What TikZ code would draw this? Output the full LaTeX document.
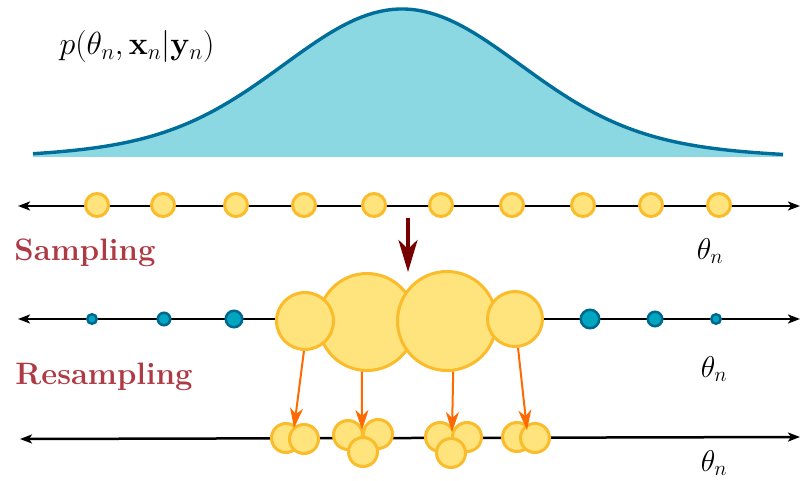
\RequirePackage{fix-cm}
\documentclass[tikz,border=0pt]{standalone}
\usetikzlibrary{arrows.meta}
\definecolor{ylwfill}{HTML}{FFE37D}
\definecolor{ylwline}{HTML}{FBBC2B}
\definecolor{cyfill}{HTML}{8BD8E2}
\definecolor{curveblue}{HTML}{006E9A}
\definecolor{dotfill}{HTML}{00A6C0}
\definecolor{dotline}{HTML}{00688F}
\definecolor{lblred}{HTML}{AE3A44}
\definecolor{darkred}{HTML}{760000}
\definecolor{orangearr}{HTML}{FF6A00}
\tikzset{
  part/.style={circle, draw=ylwline, fill=ylwfill, line width=3pt, minimum size=#1, inner sep=0pt},
  wdot/.style={circle, draw=dotline, fill=dotfill, line width=2.5pt, minimum size=#1, inner sep=0pt},
  axisline/.style={line width=2.5pt, {Stealth[length=12pt,width=9pt,inset=3pt]}-{Stealth[length=12pt,width=9pt,inset=3pt]}},
  resarrow/.style={draw=orangearr, line width=2pt, -{Stealth[length=20pt,width=13pt,inset=6pt]}},
  steplabel/.style={text=lblred, font=\fontsize{31}{36}\selectfont\bfseries, inner sep=0pt},
  mathlabel/.style={font=\fontsize{30}{36}\selectfont, inner sep=0pt}
}
\begin{document}
\begin{tikzpicture}[x=1pt,y=-1pt]
\useasboundingbox (0,0) rectangle (800,481);
% density
\fill[cyfill] plot[domain=33:783, samples=120] (\x, {160-151*(0.85*exp(-0.5*((\x-402)/115)^2)+0.15*exp(-0.5*((\x-402)/220)^2))}) -- (783,157) -- (33,157) -- cycle;
\draw[curveblue, line width=3.4pt] plot[domain=33:783, samples=120] (\x, {160-151*(0.85*exp(-0.5*((\x-402)/115)^2)+0.15*exp(-0.5*((\x-402)/220)^2))});
\node[mathlabel, font=\fontsize{32}{38}\selectfont] (plbl) at (137,47) {$p(\theta_n,\mathbf{x}_n|\mathbf{y}_n)$};

% axis 1
\coordinate (a1l) at (18,206);
\coordinate (a1r) at (800,206);
\draw[axisline] (a1l) -- (a1r);
\foreach \x [count=\i] in {97,163,236,304,374,441,512,583,651,719}
  \node[part=23pt] (s\i) at (\x,205) {};
\node[steplabel] (samp) at (85,253) {Sampling};
\node[mathlabel] (th1) at (710,251) {$\theta_n$};

% down arrow
\coordinate (dtop) at (408,218);
\coordinate (dbot) at (408,272);
\draw[darkred, line width=4pt, -{Stealth[length=32pt,width=19pt,inset=9pt]}] (dtop) -- (dbot);

% axis 2
\coordinate (a2l) at (18,319);
\coordinate (a2r) at (800,319);
\draw[axisline] (a2l) -- (a2r);
\node[wdot=9.5pt] (w1) at (92,319) {};
\node[wdot=12.5pt] (w2) at (164,319) {};
\node[wdot=16.5pt] (w3) at (234,319) {};
\node[wdot=18.5pt] (w4) at (590,319) {};
\node[wdot=14.5pt] (w5) at (655,319) {};
\node[wdot=9.5pt] (w6) at (716,319) {};
\node[part=97pt] (B) at (367,322) {};
\node[part=57pt] (A) at (305,321) {};
\node[part=99pt] (C) at (447,321) {};
\node[part=55pt] (D) at (515,319) {};
\node[steplabel] (resamp) at (104,377) {Resampling};
\node[mathlabel] (th2) at (714,369) {$\theta_n$};

% axis 3
\coordinate (a3l) at (20,439);
\coordinate (a3r) at (800,437);
\draw[axisline] (a3l) -- (a3r);
\node[part=29pt] (r1) at (286,438) {};
\node[part=29pt] (r2) at (304,439) {};
\node[part=29pt] (r3) at (348,435) {};
\node[part=29pt] (r4) at (378,434) {};
\node[part=29pt] (r5) at (363,452) {};
\node[part=29pt] (r6) at (440,437) {};
\node[part=29pt] (r7) at (467,437) {};
\node[part=29pt] (r8) at (451,453) {};
\node[part=29pt] (r9) at (517,437) {};
\node[part=29pt] (r10) at (535,438) {};
\node[mathlabel] (th3) at (714,463) {$\theta_n$};

% resampling arrows
\coordinate (t1) at (294,428);
\coordinate (t2) at (362,430);
\coordinate (t3) at (452,432);
\coordinate (t4) at (527,430);
\draw[resarrow] (A.-92) -- (t1);
\draw[resarrow] (B.-96) -- (t2);
\draw[resarrow] (C.-83) -- (t3);
\draw[resarrow] (D.-84) -- (t4);
\end{tikzpicture}
\end{document}
